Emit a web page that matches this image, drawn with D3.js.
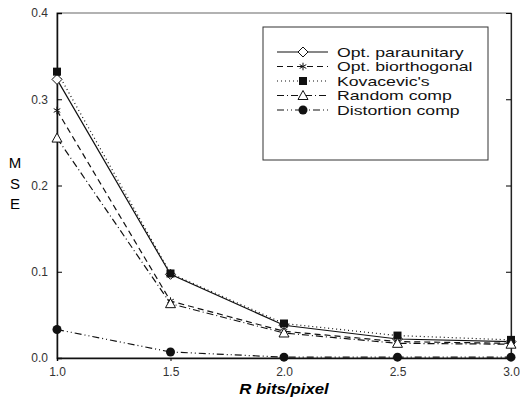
<!DOCTYPE html>
<html>
<head>
<meta charset="utf-8">
<script src="https://cdn.jsdelivr.net/npm/d3@7"></script>
<style>
body { margin: 0; background: #fff; }
text { font-family: Arial, "Liberation Sans", sans-serif; }
</style>
</head>
<body>
<div id="chart"></div>
<script>
(function(){
// data
var rates = [1.0, 1.5, 2.0, 2.5, 3.0];
var xTicks = [1.0, 1.5, 2.0, 2.5, 3.0];
var yTicks = [0.0, 0.1, 0.2, 0.3, 0.4];
var seriesNames = ["Opt. paraunitary", "Opt. biorthogonal", "Kovacevic's", "Random comp", "Distortion comp"];
var paraunitary = [0.323, 0.097, 0.038, 0.022, 0.019];
var biorthogonal = [0.287, 0.066, 0.031, 0.019, 0.017];
var kovacevic = [0.332, 0.098, 0.040, 0.026, 0.021];
var randomComp = [0.255, 0.063, 0.029, 0.017, 0.016];
var distortionComp = [0.033, 0.007, 0.001, 0.001, 0.001];

var allValues = [paraunitary, biorthogonal, kovacevic, randomComp, distortionComp];
var dashes = [null, "6,4", "1,3", "7,3,1,3", "7,3,1,3,1,3"];
var markers = ["diamond", "star", "square", "triangle", "circle"];

var margin = { top: 13, right: 9, bottom: 45, left: 57 },
    width = 520 - margin.left - margin.right,
    height = 403 - margin.top - margin.bottom;

var svg = d3.select("#chart")
    .append("svg")
    .attr("width", 520)
    .attr("height", 403)
    .append("g")
    .attr("transform", "translate(" + margin.left + "," + margin.top + ")");

var x = d3.scaleLinear().domain([1.0, 3.0]).range([0, width]);
var y = d3.scaleLinear().domain([0, 0.4]).range([height, 0]);

// frame
svg.append("rect")
    .attr("width", width).attr("height", height)
    .attr("fill", "none").attr("stroke", "#666").attr("stroke-width", 1);

// left axis, ticks inward
var yAxis = svg.append("g")
    .call(d3.axisLeft(y).tickValues(yTicks).tickSize(-5).tickPadding(9).tickFormat(d3.format(".1f")));
yAxis.select(".domain").attr("stroke", "#111").attr("stroke-width", 1.5);
yAxis.selectAll("text").attr("font-size", 12).attr("fill", "#333");

// right axis ticks inward
var yRight = svg.append("g")
    .attr("transform", "translate(" + width + ",0)")
    .call(d3.axisRight(y).tickValues(yTicks).tickSize(-5).tickFormat(""));
yRight.select(".domain").attr("stroke", "#222").attr("stroke-width", 1.2);

// bottom axis
var xAxis = svg.append("g")
    .attr("transform", "translate(0," + height + ")")
    .call(d3.axisBottom(x).tickValues(xTicks).tickSize(3).tickPadding(6).tickFormat(d3.format(".1f")));
xAxis.select(".domain").attr("stroke", "#111").attr("stroke-width", 1.5);
xAxis.selectAll("text").attr("font-size", 12).attr("fill", "#333");

// axis titles (the scan is a little stretched sideways)
svg.append("text")
    .attr("transform", "translate(" + x(2.0) + "," + (height + 36) + ") scale(1.2,1)")
    .attr("text-anchor", "middle")
    .attr("font-size", 14)
    .attr("font-weight", "bold")
    .attr("font-style", "italic")
    .text("R bits/pixel");

["M", "S", "E"].forEach(function (c, i) {
    svg.append("text")
        .attr("x", 15 - margin.left)
        .attr("y", 155 + i * 20.5)
        .attr("text-anchor", "middle")
        .attr("font-size", 15)
        .text(c);
});

function drawMarker(g, type, cx, cy) {
    if (type === "diamond") {
        g.append("path").attr("d", "M" + cx + "," + (cy - 5) + "L" + (cx + 5) + "," + cy + "L" + cx + "," + (cy + 5) + "L" + (cx - 5) + "," + cy + "Z")
            .attr("fill", "#fff").attr("stroke", "#111").attr("stroke-width", 1);
    } else if (type === "star") {
        g.append("path").attr("d", d3.symbol().type(d3.symbolAsterisk).size(40)())
            .attr("transform", "translate(" + cx + "," + cy + ")")
            .attr("fill", "none").attr("stroke", "#111").attr("stroke-width", 1);
    } else if (type === "square") {
        g.append("rect").attr("x", cx - 4).attr("y", cy - 4).attr("width", 8).attr("height", 8).attr("fill", "#111");
    } else if (type === "triangle") {
        g.append("path").attr("d", "M" + cx + "," + (cy - 5) + "L" + (cx + 5) + "," + (cy + 4) + "L" + (cx - 5) + "," + (cy + 4) + "Z")
            .attr("fill", "#fff").attr("stroke", "#111").attr("stroke-width", 1);
    } else {
        g.append("circle").attr("cx", cx).attr("cy", cy).attr("r", 4.5).attr("fill", "#111");
    }
}

var line = d3.line()
    .x(function (d) { return x(d.r); })
    .y(function (d) { return y(d.v); });

// lines
allValues.forEach(function (vals, i) {
    var data = rates.map(function (r, j) { return { r: r, v: vals[j] }; });
    svg.append("path")
        .datum(data)
        .attr("fill", "none")
        .attr("stroke", "#111")
        .attr("stroke-width", 1.2)
        .attr("stroke-dasharray", dashes[i])
        .attr("d", line);
});

// markers
allValues.forEach(function (vals, i) {
    var g = svg.append("g");
    rates.forEach(function (r, j) {
        drawMarker(g, markers[i], x(r), y(vals[j]));
    });
});

// legend
var legend = svg.append("g").attr("transform", "translate(" + (263 - margin.left) + "," + (27 - margin.top) + ")");
legend.append("rect")
    .attr("width", 225).attr("height", 133)
    .attr("fill", "#fff").attr("stroke", "#333").attr("stroke-width", 1);
seriesNames.forEach(function (name, i) {
    var ly = 25 + i * 14.5;
    legend.append("line")
        .attr("x1", 14).attr("x2", 65).attr("y1", ly).attr("y2", ly)
        .attr("stroke", "#111").attr("stroke-width", 1.2)
        .attr("stroke-dasharray", dashes[i]);
    drawMarker(legend, markers[i], 40, ly);
    legend.append("text")
        .attr("transform", "translate(74," + ly + ") scale(1.36,1)")
        .attr("dy", "0.35em")
        .attr("font-size", 13)
        .attr("fill", "#111")
        .text(name);
});
})();
</script>
</body>
</html>
